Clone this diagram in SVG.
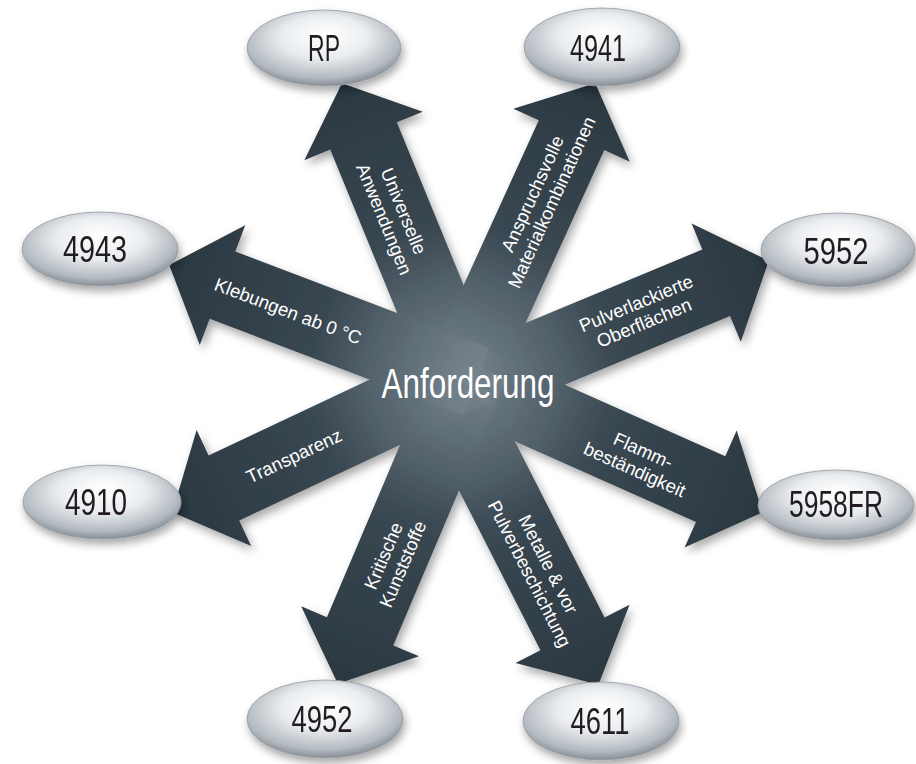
<svg xmlns="http://www.w3.org/2000/svg" width="916" height="764" viewBox="0 0 916 764">
<style>
.lbl{font-family:"Liberation Sans",Arial,sans-serif;font-size:18.5px;fill:#ffffff;text-anchor:middle}
.nodeTxt{font-family:"Liberation Sans",Arial,sans-serif;font-size:36px;fill:#231f20;text-anchor:middle}
.center{font-family:"Liberation Sans",Arial,sans-serif;font-size:43px;fill:#ffffff;text-anchor:middle}
.arrow{fill:url(#arrowGrad)}
.ell{fill:url(#ellGrad);stroke:#949ba1;stroke-width:0.8}
</style>
<defs>
<linearGradient id="arrowGrad" x1="1" y1="0" x2="0" y2="0">
<stop offset="0" stop-color="#2b3841"/>
<stop offset="0.5" stop-color="#394751"/>
<stop offset="0.85" stop-color="#52606a"/>
<stop offset="1" stop-color="#64717a"/>
</linearGradient>
<radialGradient id="glow" cx="462" cy="376" r="150" gradientUnits="userSpaceOnUse">
<stop offset="0" stop-color="#8a98a2" stop-opacity="0.5"/>
<stop offset="1" stop-color="#8a98a2" stop-opacity="0"/>
</radialGradient>
<radialGradient id="ellGrad" cx="0.48" cy="0.42" r="0.62" fx="0.52" fy="0.3">
<stop offset="0" stop-color="#ffffff"/>
<stop offset="0.45" stop-color="#eaedf0"/>
<stop offset="0.8" stop-color="#b3bac0"/>
<stop offset="1" stop-color="#767e85"/>
</radialGradient>
<filter id="shadow" x="-20%" y="-20%" width="140%" height="150%">
<feDropShadow dx="3" dy="5" stdDeviation="5" flood-color="#000000" flood-opacity="0.35"/>
</filter>
<filter id="eshadow" x="-20%" y="-30%" width="140%" height="170%">
<feDropShadow dx="2" dy="5" stdDeviation="4" flood-color="#000000" flood-opacity="0.35"/>
</filter>
<clipPath id="arrowClip">
<use href="#arr-rp"/><use href="#arr-4941"/><use href="#arr-5952"/><use href="#arr-5958"/>
<use href="#arr-4611"/><use href="#arr-4952"/><use href="#arr-4910"/><use href="#arr-4943"/>
</clipPath>
</defs>
<rect width="916" height="764" fill="#ffffff"/>
<g id="connectors">
<g filter="url(#shadow)">
<polygon id="arr-rp" class="arrow" transform="translate(341.9,83.2) rotate(-112.3)" points="0,0 -57,-64 -57,-36 -332,-36 -332,36 -57,36 -57,64"/>
<polygon id="arr-4941" class="arrow" transform="translate(595.2,83.3) rotate(-65.5)" points="0,0 -57,-64 -57,-36 -337,-36 -337,36 -57,36 -57,64"/>
<polygon id="arr-5952" class="arrow" transform="translate(768.8,260.8) rotate(-22.6)" points="0,0 -57,-64 -57,-36 -342,-36 -342,36 -57,36 -57,64"/>
<polygon id="arr-5958" class="arrow" transform="translate(762.7,512.2) rotate(24)" points="0,0 -57,-64 -57,-36 -345,-36 -345,36 -57,36 -57,64"/>
<polygon id="arr-4611" class="arrow" transform="translate(598.4,684.7) rotate(63)" points="0,0 -57,-64 -57,-36 -352,-36 -352,36 -57,36 -57,64"/>
<polygon id="arr-4952" class="arrow" transform="translate(337.8,683.8) rotate(113)" points="0,0 -57,-64 -57,-36 -347,-36 -347,36 -57,36 -57,64"/>
<polygon id="arr-4910" class="arrow" transform="translate(172.3,512.3) rotate(154.8)" points="0,0 -57,-64 -57,-36 -335,-36 -335,36 -57,36 -57,64"/>
<polygon id="arr-4943" class="arrow" transform="translate(169.2,264.9) rotate(-159.2)" points="0,0 -57,-64 -57,-36 -328,-36 -328,36 -57,36 -57,64"/>
</g>
<rect x="250" y="160" width="430" height="430" fill="url(#glow)" clip-path="url(#arrowClip)"/>
<text class="lbl" transform="translate(288,311) rotate(20.8)" y="6.5">Klebungen ab 0 °C</text>
<text class="lbl" transform="translate(394,215) rotate(67.7)"><tspan x="0" y="-4">Universelle</tspan><tspan x="0" y="17">Anwendungen</tspan></text>
<text class="lbl" transform="translate(542,198) rotate(-65.5)"><tspan x="0" y="-4">Anspruchsvolle</tspan><tspan x="0" y="17">Materialkombinationen</tspan></text>
<text class="lbl" transform="translate(640,313) rotate(-22.6)"><tspan x="0" y="-4">Pulverlackierte</tspan><tspan x="0" y="17">Oberflächen</tspan></text>
<text class="lbl" transform="translate(639,460) rotate(24)"><tspan x="0" y="-4">Flamm-</tspan><tspan x="0" y="17">beständigkeit</tspan></text>
<text class="lbl" transform="translate(539,569) rotate(63)"><tspan x="0" y="-4">Metalle &amp; vor</tspan><tspan x="0" y="17">Pulverbeschichtung</tspan></text>
<text class="lbl" transform="translate(393,560) rotate(-67)"><tspan x="0" y="-4">Kritische</tspan><tspan x="0" y="17">Kunststoffe</tspan></text>
<text class="lbl" transform="translate(294,456) rotate(-25.2)" y="6.5">Transparenz</text>
</g>
<g id="node-center">
<text class="center" x="468" y="398" textLength="173" lengthAdjust="spacingAndGlyphs">Anforderung</text>
</g>
<g id="node-rp" filter="url(#eshadow)">
<ellipse class="ell" cx="324" cy="48" rx="77" ry="38"/>
<text class="nodeTxt" x="324" y="61" textLength="32" lengthAdjust="spacingAndGlyphs">RP</text>
</g>
<g id="node-4941" filter="url(#eshadow)">
<ellipse class="ell" cx="602" cy="47" rx="78" ry="39"/>
<text class="nodeTxt" x="598" y="61" textLength="56" lengthAdjust="spacingAndGlyphs">4941</text>
</g>
<g id="node-4943" filter="url(#eshadow)">
<ellipse class="ell" cx="100" cy="249" rx="78" ry="37"/>
<text class="nodeTxt" x="95" y="262" textLength="64" lengthAdjust="spacingAndGlyphs">4943</text>
</g>
<g id="node-5952" filter="url(#eshadow)">
<ellipse class="ell" cx="838" cy="250" rx="77" ry="37"/>
<text class="nodeTxt" x="836" y="264" textLength="65" lengthAdjust="spacingAndGlyphs">5952</text>
</g>
<g id="node-4910" filter="url(#eshadow)">
<ellipse class="ell" cx="102" cy="502" rx="79" ry="37"/>
<text class="nodeTxt" x="96" y="515" textLength="62" lengthAdjust="spacingAndGlyphs">4910</text>
</g>
<g id="node-5958fr" filter="url(#eshadow)">
<ellipse class="ell" cx="836" cy="505" rx="78" ry="35"/>
<text class="nodeTxt" x="836" y="517" font-size="34" textLength="94" lengthAdjust="spacingAndGlyphs">5958FR</text>
</g>
<g id="node-4952" filter="url(#eshadow)">
<ellipse class="ell" cx="325" cy="719" rx="78" ry="39"/>
<text class="nodeTxt" x="322" y="732" textLength="61" lengthAdjust="spacingAndGlyphs">4952</text>
</g>
<g id="node-4611" filter="url(#eshadow)">
<ellipse class="ell" cx="601" cy="721" rx="78" ry="39"/>
<text class="nodeTxt" x="600" y="734" textLength="59" lengthAdjust="spacingAndGlyphs">4611</text>
</g>
</svg>
